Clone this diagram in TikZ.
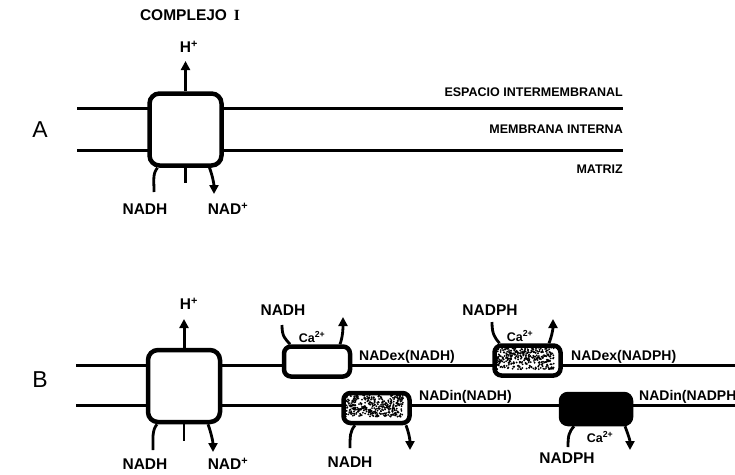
\documentclass[tikz,border=0pt]{standalone}
\usepackage{fontspec}
\setmainfont{Liberation Sans}
\newfontfamily\serif{Liberation Serif}
\usetikzlibrary{arrows.meta,positioning,calc}

\begin{document}
\begin{tikzpicture}[
  x=1pt,y=-1pt,
  >={Triangle[width=9pt,length=9pt]},
  memb/.style={line width=3pt},
  cplx/.style={draw,line width=4.5pt,rounded corners=10pt,fill=white,
    minimum width=72pt,minimum height=72pt,inner sep=0pt},
  carrier/.style={draw,line width=4.5pt,rounded corners=7pt,fill=white,
    minimum width=66pt,minimum height=30pt,inner sep=0pt},
  flux/.style={line width=2.8pt},
  big/.style={font=\bfseries\fontsize{15.5}{15.5}\selectfont,inner sep=0pt},
  tag/.style={font=\bfseries\fontsize{14}{14}\selectfont,inner sep=0pt,anchor=west},
  zone/.style={font=\bfseries\fontsize{12.5}{13}\selectfont,inner sep=0pt,anchor=east},
  ion/.style={font=\bfseries\fontsize{12.5}{12.5}\selectfont,inner sep=0pt},
  panel/.style={font=\fontsize{23}{23}\selectfont,inner sep=0pt}
]
  \useasboundingbox (0,0) rectangle (735,474);

  % panel A
  \node[panel] (pA) at (40,130) {A};
  \node[big] (title) at (190,15) {COMPLEJO \,{\serif I}};
  \draw[memb] (77,108) -- (623,108);
  \draw[memb] (77,150) -- (623,150);
  \node[zone] (esp) at (623,92) {ESPACIO INTERMEMBRANAL};
  \node[zone] (mem) at (623,129) {MEMBRANA INTERNA};
  \node[zone] (mat) at (623,169) {MATRIZ};

  \node[cplx] (c1) at (185.5,129.5) {};
  \node[big] (h1) at (189,47) {H\textsuperscript{+}};
  \node[big] (nadh1) at (145,209) {NADH};
  \node[big] (nad1) at (228,209) {NAD\textsuperscript{+}};
  \coordinate (c1-up) at (185.5,61);
  \coordinate (c1-in) at (154,192);
  \coordinate (c1-mid) at (185.5,183);
  \coordinate (c1-out) at (214,194);
  \draw[flux,line width=3pt,->] (c1.north) -- (c1-up);
  \draw[flux] (c1-in) .. controls +(0,-12) and +(-5,6) .. ([xshift=-28pt]c1.south);
  \draw[flux] (c1.south) -- (c1-mid);
  \draw[flux,->] ([xshift=24pt]c1.south) .. controls +(3,8) and +(0,-10) .. (c1-out);

  % panel B
  \node[panel] (pB) at (40,380) {B};
  \draw[memb] (76,365) -- (735,365);
  \draw[memb] (76,405) -- (735,405);

  \node[cplx] (c2) at (184,386) {};
  \node[big] (h2) at (189,304) {H\textsuperscript{+}};
  \node[big] (nadh2) at (145,464) {NADH};
  \node[big] (nad2) at (228,464) {NAD\textsuperscript{+}};
  \coordinate (c2-up) at (184,319);
  \coordinate (c2-in) at (153,450);
  \coordinate (c2-mid) at (184,441);
  \coordinate (c2-out) at (213,452);
  \draw[flux,line width=3pt,->] (c2.north) -- (c2-up);
  \draw[flux] (c2-in) .. controls +(0,-12) and +(-5,6) .. ([xshift=-27pt]c2.south);
  \draw[flux] (c2.south) -- (c2-mid);
  \draw[flux,->] ([xshift=24pt]c2.south) .. controls +(3,8) and +(0,-10) .. (c2-out);

  \node[carrier] (t1) at (317,361.5) {};
  \node[carrier,fill=white] (t2) at (527.5,360.5) {};
  \node[carrier,fill=white] (t3) at (376.5,408) {};
  \node[carrier,fill=black,minimum width=70pt] (t4) at (596,409) {};
  % stippled carriers
  \pgfmathsetseed{11}
  \foreach \b in {t2,t3}{
    \foreach \k in {1,...,380}
      \fill ($(\b.north west)+(4+rnd*58,4+rnd*22)$) circle (1);
  }

  \node[tag] (ex1) at (359,357) {NADex(NADH)};
  \node[tag] (ex2) at (571,357) {NADex(NADPH)};
  \node[tag] (in1) at (419,397) {NADin(NADH)};
  \node[tag] (in2) at (639,397) {NADin(NADPH};

  \node[big] (nadh3) at (283,310) {NADH};
  \node[ion] (ca1) at (312,337) {Ca\textsuperscript{2+}};
  \coordinate (t1-in) at (282,325);
  \coordinate (t1-out) at (343,317);
  \draw[flux] (t1-in) .. controls +(0,12) and +(-5,-6) .. ([xshift=-27pt]t1.north);
  \draw[flux,->] ([xshift=23pt]t1.north) .. controls +(3,-8) and +(0,10) .. (t1-out);

  \node[big] (nadph1) at (490,310) {NADPH};
  \node[ion] (ca2) at (520,336) {Ca\textsuperscript{2+}};
  \coordinate (t2-in) at (492,322);
  \coordinate (t2-out) at (553,319);
  \draw[flux] (t2-in) .. controls +(0,12) and +(-5,-6) .. ([xshift=-28pt]t2.north);
  \draw[flux,->] ([xshift=21.5pt]t2.north) .. controls +(3,-8) and +(0,10) .. (t2-out);

  \node[big] (nadh4) at (350,462) {NADH};
  \coordinate (t3-in) at (350,448);
  \coordinate (t3-out) at (410,450);
  \draw[flux] (t3-in) .. controls +(0,-12) and +(-5,6) .. ([xshift=-21.5pt]t3.south);
  \draw[flux,->] ([xshift=29.5pt]t3.south) .. controls +(3,8) and +(0,-10) .. (t3-out);

  \node[big] (nadph2) at (567,458) {NADPH};
  \node[ion] (ca3) at (600,437) {Ca\textsuperscript{2+}};
  \coordinate (t4-in) at (568,447);
  \coordinate (t4-out) at (630,450);
  \draw[flux] (t4-in) .. controls +(0,-12) and +(-5,6) .. ([xshift=-22pt]t4.south);
  \draw[flux,->] ([xshift=29pt]t4.south) .. controls +(3,8) and +(0,-10) .. (t4-out);
\end{tikzpicture}
\end{document}
